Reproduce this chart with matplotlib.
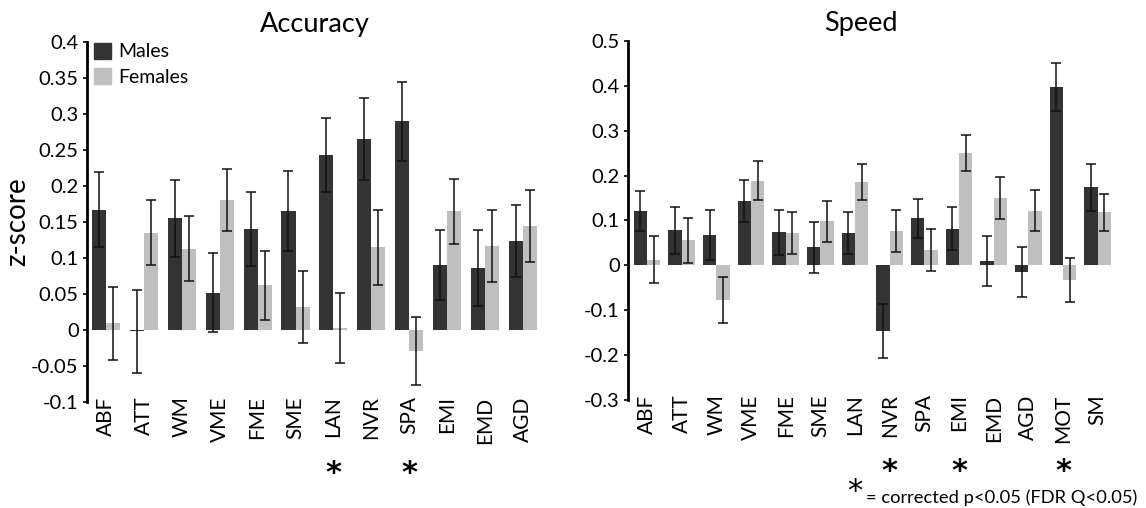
import numpy as np
import matplotlib
matplotlib.use("Agg")
import matplotlib.pyplot as plt
from matplotlib.patches import Patch

plt.rcParams["font.family"] = ["Lato", "DejaVu Sans"]

# accuracy panel
acc_labels = ["ABF", "ATT", "WM", "VME", "FME", "SME", "LAN", "NVR", "SPA", "EMI", "EMD", "AGD"]
acc_male = [0.167, -0.002, 0.155, 0.052, 0.140, 0.165, 0.243, 0.265, 0.290, 0.090, 0.086, 0.124]
acc_male_err = [0.052, 0.058, 0.053, 0.055, 0.051, 0.056, 0.051, 0.057, 0.055, 0.049, 0.053, 0.050]
acc_female = [0.009, 0.135, 0.113, 0.180, 0.062, 0.032, 0.003, 0.115, -0.029, 0.165, 0.117, 0.145]
acc_female_err = [0.051, 0.045, 0.045, 0.043, 0.048, 0.050, 0.049, 0.052, 0.047, 0.045, 0.050, 0.050]
acc_sig = ["LAN", "SPA"]

# speed panel
spd_labels = ["ABF", "ATT", "WM", "VME", "FME", "SME", "LAN", "NVR", "SPA", "EMI", "EMD", "AGD", "MOT", "SM"]
spd_male = [0.121, 0.078, 0.068, 0.143, 0.074, 0.040, 0.073, -0.146, 0.105, 0.082, 0.010, -0.014, 0.397, 0.174]
spd_male_err = [0.045, 0.052, 0.055, 0.047, 0.050, 0.056, 0.047, 0.060, 0.044, 0.047, 0.055, 0.056, 0.053, 0.053]
spd_female = [0.013, 0.056, -0.077, 0.189, 0.072, 0.098, 0.185, 0.076, 0.035, 0.250, 0.150, 0.122, -0.033, 0.118]
spd_female_err = [0.053, 0.050, 0.052, 0.043, 0.046, 0.045, 0.040, 0.047, 0.047, 0.040, 0.047, 0.046, 0.049, 0.041]
spd_sig = ["NVR", "EMI", "MOT"]

MALE_C = "#333333"
FEMALE_C = "#bfbfbf"


def draw_panel(ax, labels, male, male_err, female, female_err, sig, w, xlim, ylim, yticks, ytl, title, title_x):
    x = np.arange(len(labels))
    ekw = dict(elinewidth=1.1, capthick=1.1, ecolor="#111111")
    ax.bar(x - w / 2, male, w, color=MALE_C, yerr=male_err, capsize=3.5, error_kw=ekw, zorder=2)
    ax.bar(x + w / 2, female, w, color=FEMALE_C, yerr=female_err, capsize=3.5, error_kw=ekw, zorder=2)
    ax.set_xlim(*xlim)
    ax.set_ylim(*ylim)
    ax.set_yticks(yticks)
    ax.set_yticklabels(ytl, fontsize=14.5)
    ax.set_xticks(x)
    ax.set_xticklabels(labels, rotation=90, fontsize=15)
    ax.tick_params(axis="x", length=0, pad=-4)
    ax.tick_params(axis="y", length=3, width=1.2, direction="out", pad=3)
    for s in ["top", "right", "bottom"]:
        ax.spines[s].set_visible(False)
    ax.spines["left"].set_linewidth(2)
    ax.set_title(title, fontsize=19.5, pad=7, x=title_x)
    trans = ax.get_xaxis_transform()
    for lab in sig:
        ax.text(labels.index(lab), -0.222, "*", transform=trans, ha="center", va="baseline",
                fontsize=22, fontweight="bold", family="DejaVu Sans")


fig = plt.figure(figsize=(11.46, 5.08), dpi=100)
ax1 = fig.add_axes([0.0759, 0.2087, 0.3970, 0.7087])
ax2 = fig.add_axes([0.5480, 0.2126, 0.4250, 0.7067])

draw_panel(ax1, acc_labels, acc_male, acc_male_err, acc_female, acc_female_err, acc_sig,
           0.37, (-0.5, 11.5), (-0.1, 0.4), np.arange(-0.1, 0.401, 0.05),
           ["-0.1", "-0.05", "0", "0.05", "0.1", "0.15", "0.2", "0.25", "0.3", "0.35", "0.4"],
           "Accuracy", 0.5)
draw_panel(ax2, spd_labels, spd_male, spd_male_err, spd_female, spd_female_err, spd_sig,
           0.385, (-0.55, 13.5), (-0.3, 0.5), np.arange(-0.3, 0.501, 0.1),
           ["-0.3", "-0.2", "-0.1", "0", "0.1", "0.2", "0.3", "0.4", "0.5"],
           "Speed", 0.478)

ax1.set_ylabel("z-score", fontsize=20)
ax1.yaxis.set_label_coords(-0.125, 0.5)
handles = [Patch(color=MALE_C, label="Males"), Patch(color=FEMALE_C, label="Females")]
ax1.legend(handles=handles, loc="upper left", bbox_to_anchor=(0.015, 0.998), frameon=False,
           fontsize=14, handlelength=0.9, handleheight=0.9, handletextpad=0.35, labelspacing=0.4,
           borderaxespad=0, borderpad=0)

fig.text(0.739, 0.0157, "*", fontsize=22, ha="left", va="baseline", family="DejaVu Sans")
fig.text(0.7555, 0.0098, "= corrected p<0.05 (FDR Q<0.05)", fontsize=13.2, ha="left", va="baseline")

fig.savefig("out.png", dpi=100)
